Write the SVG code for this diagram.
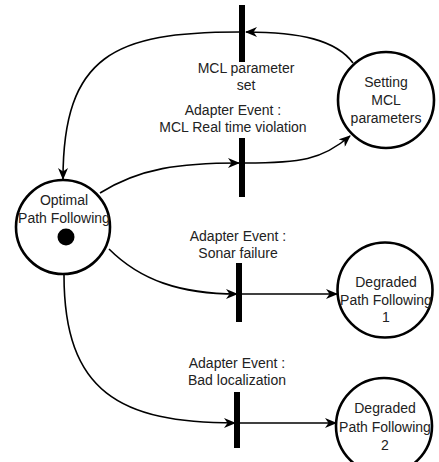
<svg xmlns="http://www.w3.org/2000/svg" width="439" height="462" viewBox="0 0 439 462">
<style>
.place{fill:#fff;stroke:#000;stroke-width:2.6}
.bar{fill:#000}
.edge{fill:none;stroke:#000;stroke-width:1.6}
text{font-family:"Liberation Sans",Arial,sans-serif;font-size:14px;fill:#222;text-anchor:middle}
</style>
<defs>
<marker id="arr" viewBox="0 0 12 10" refX="11" refY="5" markerWidth="12" markerHeight="10" markerUnits="userSpaceOnUse" orient="auto">
<path d="M0,0 L12,5 L0,10 L3.5,5 z" fill="#000"/>
</marker>
</defs>
<rect width="439" height="462" fill="#fff"/>
<g id="connectors">
<path class="edge" d="M353 63 C336 40 300 32 246 32" marker-end="url(#arr)"/>
<path class="edge" d="M239 32 C115 32 63 55 63 179" marker-end="url(#arr)"/>
<path class="edge" d="M100 193 C140 168 180 163 239 163" marker-end="url(#arr)"/>
<path class="edge" d="M245 163 C300 163 322 160 350 136" marker-end="url(#arr)"/>
<path class="edge" d="M109 249 C140 280 180 294 237 294" marker-end="url(#arr)"/>
<path class="edge" d="M242 294 L337 294" marker-end="url(#arr)"/>
<path class="edge" d="M64 275 C64 392 120 423 235 423" marker-end="url(#arr)"/>
<path class="edge" d="M240 423 L336 423" marker-end="url(#arr)"/>
</g>
<g id="t_param_set">
<rect class="bar" x="239" y="5" width="6" height="57"/>
<text x="246" y="73">MCL parameter</text>
<text x="246" y="90">set</text>
</g>
<g id="t_rt_violation">
<rect class="bar" x="239" y="138" width="6" height="59"/>
<text x="233" y="115">Adapter Event :</text>
<text x="233" y="132">MCL Real time violation</text>
</g>
<g id="t_sonar">
<rect class="bar" x="236" y="263" width="6" height="59"/>
<text x="238" y="241">Adapter Event :</text>
<text x="238" y="258">Sonar failure</text>
</g>
<g id="t_bad_loc">
<rect class="bar" x="234" y="392" width="6" height="56"/>
<text x="237" y="368">Adapter Event :</text>
<text x="237" y="385">Bad localization</text>
</g>
<g id="p_optimal">
<circle class="place" cx="63" cy="227" r="47"/>
<text x="64" y="205">Optimal</text>
<text x="64" y="223">Path Following</text>
<circle cx="66" cy="237" r="8.5" fill="#000"/>
</g>
<g id="p_setting">
<circle class="place" cx="386" cy="100" r="48"/>
<text x="386" y="87">Setting</text>
<text x="386" y="105">MCL</text>
<text x="386" y="123">parameters</text>
</g>
<g id="p_degraded1">
<circle class="place" cx="385" cy="290" r="47.5"/>
<text x="386" y="287">Degraded</text>
<text x="386" y="305">Path Following</text>
<text x="386" y="322">1</text>
</g>
<g id="p_degraded2">
<circle class="place" cx="384" cy="426" r="48"/>
<text x="385" y="413">Degraded</text>
<text x="385" y="432">Path Following</text>
<text x="385" y="450">2</text>
</g>
</svg>
